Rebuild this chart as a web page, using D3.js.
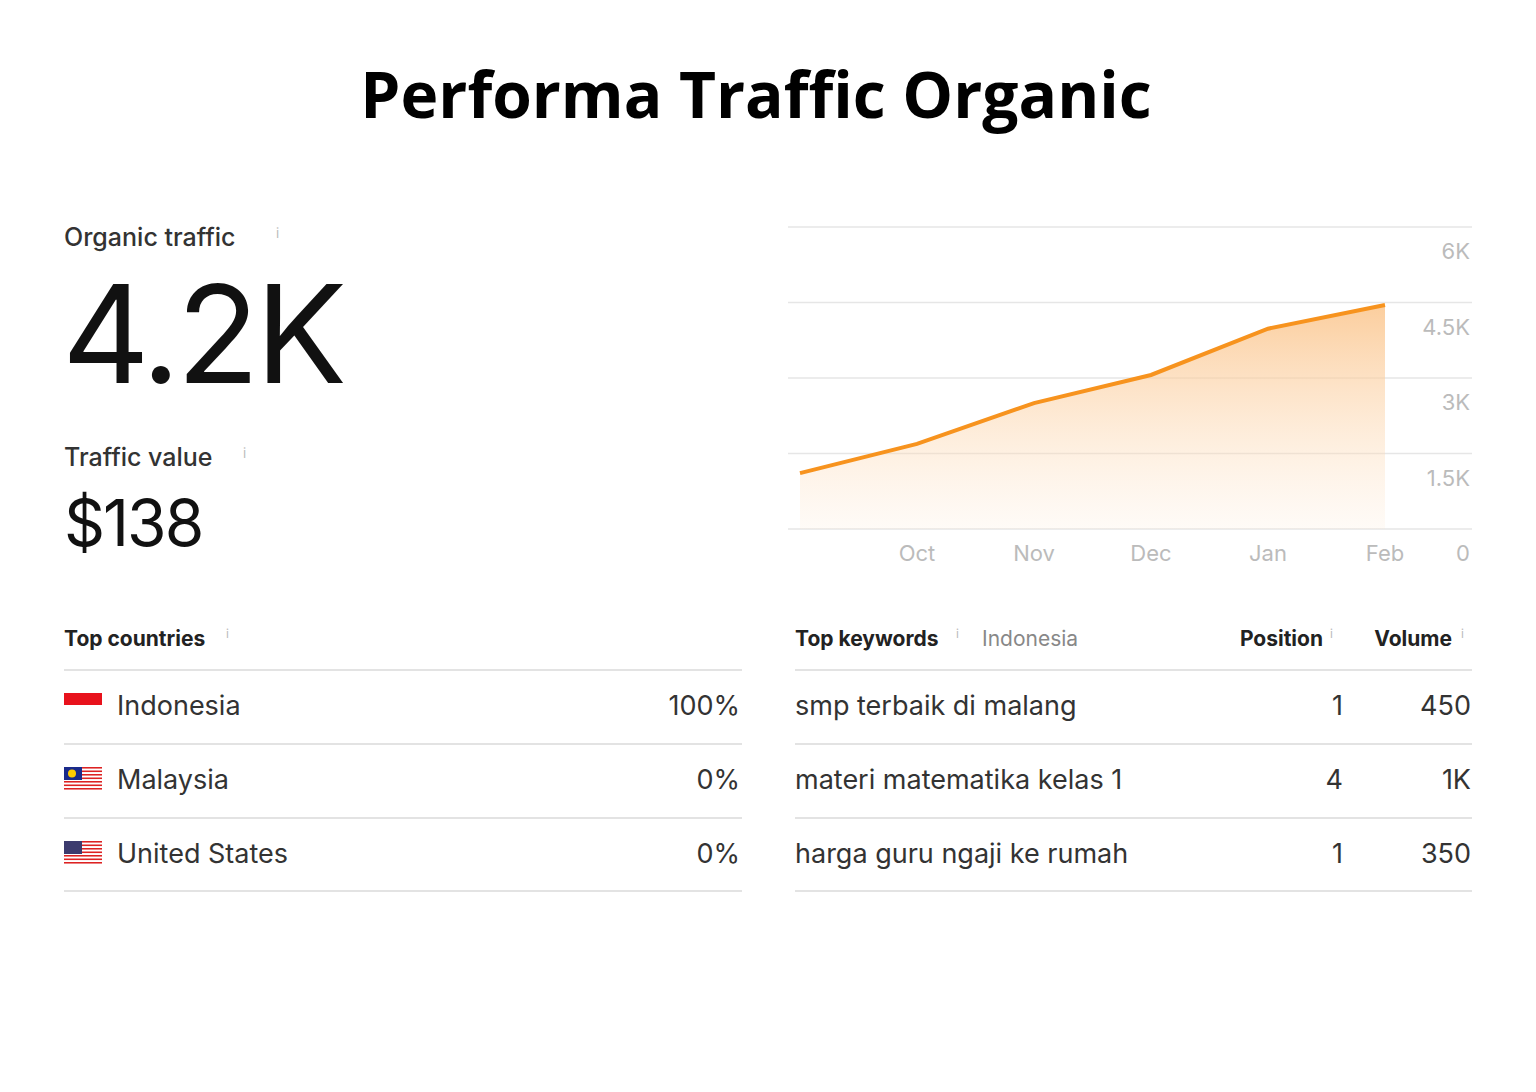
<!DOCTYPE html>
<html><head><meta charset="utf-8">
<script src="https://cdn.jsdelivr.net/npm/d3@7"></script>
<style>body{margin:0;background:#fff}</style>
</head><body><div id="svg-area"></div>
<script>
var months = ["Sep", "Oct", "Nov", "Dec", "Jan", "Feb"];
var traffic = [1110, 1690, 2500, 3060, 3980, 4450];
var yTicks = [0, 1500, 3000, 4500, 6000];
var yTickLabels = ["0", "1.5K", "3K", "4.5K", "6K"];
var countries = ["Indonesia", "Malaysia", "United States"];
var countryShare = ["100%", "0%", "0%"];
var keywords = ["smp terbaik di malang", "materi matematika kelas 1", "harga guru ngaji ke rumah"];
var positions = [1, 4, 1];
var volumes = ["450", "1K", "350"];

var svg = d3.select("#svg-area").append("svg").attr("width", 1536).attr("height", 1092)
    .style("font-family", "Inter, 'Noto Sans', sans-serif");

svg.append("text").attr("x", 756).attr("y", 118).attr("text-anchor", "middle")
    .attr("font-family", "'Open Sans', sans-serif").attr("font-weight", 700).attr("font-size", 64)
    .attr("fill", "#000").text("Performa Traffic Organic");

// left stats
function label(x, y, t, size, weight, color) {
    return svg.append("text").attr("x", x).attr("y", y).attr("font-size", size)
        .attr("font-weight", weight || 400).attr("fill", color || "#222").text(t);
}
label(64, 246, "Organic traffic", 25, 500, "#333");
label(276, 238, "i", 13, 400, "#bbb");
label(62, 383, "4.2K", 136, 400, "#111").attr("letter-spacing", -4);
label(64, 466, "Traffic value", 25, 500, "#333");
label(243, 458, "i", 13, 400, "#bbb");
label(64, 546, "$138", 64, 400, "#111").attr("letter-spacing", -2);

// chart
var x = d3.scalePoint().domain(months).range([800, 1385]);
var y = d3.scaleLinear().domain([0, 6000]).range([529, 227]);
var g = svg.append("g");
g.selectAll("line.grid").data(yTicks).enter().append("line")
    .attr("x1", 788).attr("x2", 1472).attr("y1", d => y(d)).attr("y2", d => y(d))
    .attr("stroke", "#e6e6e6").attr("stroke-width", 1.5);
g.selectAll("text.yl").data(yTicks).enter().append("text")
    .attr("x", 1470).attr("y", d => y(d) + 32).attr("text-anchor", "end")
    .attr("font-size", 22).attr("fill", "#bbb").text((d, i) => yTickLabels[i]);
g.selectAll("text.xl").data(months.slice(1)).enter().append("text")
    .attr("x", d => x(d)).attr("y", 561).attr("text-anchor", "middle")
    .attr("font-size", 22).attr("fill", "#bbb").text(d => d);

var defs = svg.append("defs");
var grad = defs.append("linearGradient").attr("id", "fillg").attr("x1", 0).attr("x2", 0).attr("y1", 0).attr("y2", 1);
grad.append("stop").attr("offset", "0%").attr("stop-color", "#fbc58c").attr("stop-opacity", 0.85);
grad.append("stop").attr("offset", "100%").attr("stop-color", "#fde3c8").attr("stop-opacity", 0.15);
var data = months.map((m, i) => ({m: m, v: traffic[i]}));
g.append("path").datum(data).attr("fill", "url(#fillg)")
    .attr("d", d3.area().x(d => x(d.m)).y0(y(0)).y1(d => y(d.v)));
g.append("path").datum(data).attr("fill", "none").attr("stroke", "#f7931e").attr("stroke-width", 4)
    .attr("d", d3.line().x(d => x(d.m)).y(d => y(d.v)));

// tables
label(64, 646, "Top countries", 21, 700, "#222");
label(226, 638, "i", 12, 400, "#bbb");
label(795, 646, "Top keywords", 21, 700, "#222");
label(956, 638, "i", 12, 400, "#bbb");
label(982, 646, "Indonesia", 21, 400, "#888");
svg.append("text").attr("x", 1323).attr("y", 646).attr("text-anchor", "end").attr("font-size", 21).attr("font-weight", 700).attr("fill", "#222").text("Position");
label(1330, 638, "i", 12, 400, "#bbb");
svg.append("text").attr("x", 1452).attr("y", 646).attr("text-anchor", "end").attr("font-size", 21).attr("font-weight", 700).attr("fill", "#222").text("Volume");
label(1461, 638, "i", 12, 400, "#bbb");

var rowY = [670, 744, 818, 891];
rowY.forEach(function (ry) {
    svg.append("line").attr("x1", 64).attr("x2", 742).attr("y1", ry).attr("y2", ry).attr("stroke", "#e3e3e3").attr("stroke-width", 2);
    svg.append("line").attr("x1", 795).attr("x2", 1472).attr("y1", ry).attr("y2", ry).attr("stroke", "#e3e3e3").attr("stroke-width", 2);
});

function flag(i, fy) {
    var f = svg.append("g").attr("transform", "translate(64," + (fy - 13) + ")");
    if (i === 0) {
        f.append("rect").attr("width", 38).attr("height", 12).attr("fill", "#e8121c");
        f.append("rect").attr("y", 12).attr("width", 38).attr("height", 12).attr("fill", "#fff");
    } else {
        for (var k = 0; k < 7; k++) {
            f.append("rect").attr("y", k * 3.5).attr("width", 38).attr("height", 1.75).attr("fill", "#d22");
            f.append("rect").attr("y", k * 3.5 + 1.75).attr("width", 38).attr("height", 1.75).attr("fill", "#fff");
        }
        f.append("rect").attr("width", 18).attr("height", 13).attr("fill", i === 1 ? "#1a2a8a" : "#3c3b6e");
        if (i === 1) f.append("circle").attr("cx", 8).attr("cy", 6.5).attr("r", 4).attr("fill", "#fc0");
    }
}
countries.forEach(function (c, i) {
    var cy = 715 + i * 74;
    flag(i, cy - 9);
    label(117, cy, c, 27, 400, "#333");
    svg.append("text").attr("x", 740).attr("y", cy).attr("text-anchor", "end").attr("font-size", 27).attr("fill", "#333").text(countryShare[i]);
    label(795, cy, keywords[i], 27, 400, "#333");
    svg.append("text").attr("x", 1343).attr("y", cy).attr("text-anchor", "end").attr("font-size", 27).attr("fill", "#333").text(positions[i]);
    svg.append("text").attr("x", 1471).attr("y", cy).attr("text-anchor", "end").attr("font-size", 27).attr("fill", "#333").text(volumes[i]);
});
</script></body></html>
